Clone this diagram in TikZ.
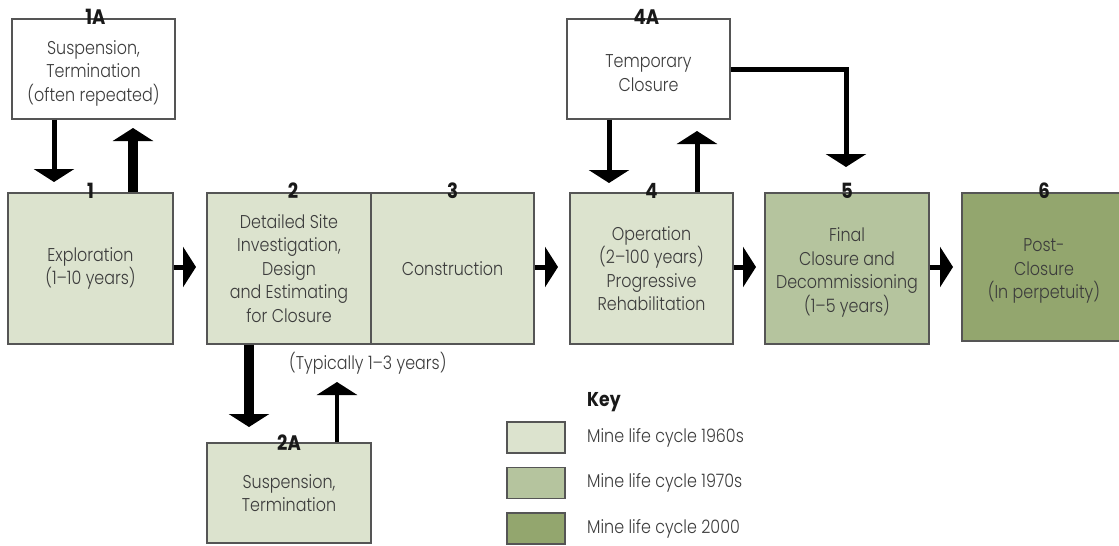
\documentclass[tikz,border=0pt]{standalone}
\usepackage{fontspec}
\setmainfont{Poppins}[UprightFont=* Light, BoldFont=* Bold, FakeStretch=0.86]
\usetikzlibrary{arrows.meta,positioning}
\definecolor{cA}{HTML}{DCE3CE}
\definecolor{cB}{HTML}{B5C49E}
\definecolor{cC}{HTML}{93A66E}
\definecolor{bord}{HTML}{555555}
\definecolor{txt}{HTML}{3C3C3C}
\tikzset{
  stage/.style={draw=bord, line width=1.1pt, minimum width=164pt, minimum height=151pt,
    inner sep=0pt, align=center, text=txt, font=\fontsize{18.5}{23.5}\selectfont},
  sidebox/.style={stage, minimum height=100pt},
  boxtext/.style={inner sep=0pt, align=center, text=txt, font=\fontsize{18.5}{23.5}\selectfont},
  numlbl/.style={font=\fontsize{21}{21}\selectfont\bfseries, text=black!90, inner sep=0pt},
  arr/.style={line width=5pt, -{Triangle[width=40pt,length=13pt]}},
  thickarr/.style={arr, line width=10pt},
  swatch/.style={draw=bord, line width=1.1pt, minimum width=58pt, minimum height=31pt, inner sep=0pt},
  keytxt/.style={anchor=west, text=txt, font=\fontsize{18.5}{20}\selectfont, inner sep=0pt}
}
\begin{document}
\begin{tikzpicture}[x=1pt,y=-1pt]
\useasboundingbox (0,0) rectangle (1119,546);
% main stages
\node[stage, fill=cA, minimum width=165pt] (b1) at (90.5,268.5) {Exploration\\(1--10 years)};
\node[stage, fill=cA] (b2) at (289,268.5) {Detailed Site\\Investigation,\\Design\\and Estimating\\for Closure};
\node[stage, fill=cA, minimum width=163pt] (b3) at (452.5,268.5) {Construction};
\node[stage, fill=cA, minimum width=163pt] (b4) at (651.5,268.5) {Operation\\(2--100 years)\\Progressive\\Rehabilitation};
\node[stage, fill=cB] (b5) at (847,268.5) {};
\node[boxtext] (b5t) at ([yshift=-4pt]b5.center) {Final\\Closure and\\Decommissioning\\(1--5 years)};
\node[stage, fill=cC, minimum height=148pt] (b6) at (1044,267) {};
\node[boxtext] (b6t) at ([yshift=-4pt]b6.center) {Post-\\Closure\\(In perpetuity)};
% side boxes
\node[sidebox, fill=white, minimum width=163pt] (a1) at (93.5,69) {};
\node[boxtext] (a1t) at ([yshift=-4pt]a1.center) {Suspension,\\Termination\\(often repeated)};
\node[sidebox, fill=white, minimum width=163pt] (a4) at (648.5,69) {};
\node[boxtext] (a4t) at ([yshift=-4pt]a4.center) {Temporary\\Closure};
\node[sidebox, fill=cA] (a2) at (289,493) {Suspension,\\Termination};
% number labels
\node[numlbl] (n1) at ([yshift=2pt]b1.north) {1};
\node[numlbl] (n2) at ([yshift=2pt,xshift=4pt]b2.north) {2};
\node[numlbl] (n3) at ([yshift=2pt]b3.north) {3};
\node[numlbl] (n4) at ([yshift=2pt]b4.north) {4};
\node[numlbl] (n5) at ([yshift=2pt]b5.north) {5};
\node[numlbl] (n6) at ([yshift=2pt]b6.north) {6};
\node[numlbl] (n1a) at ([yshift=2pt,xshift=2pt]a1.north) {1A};
\node[numlbl] (n4a) at ([yshift=2pt,xshift=-2pt]a4.north) {4A};
\node[numlbl] (n2a) at (a2.north) {2A};
% free ends
\coordinate (t1d) at (54,182);
\coordinate (t1u) at (133,128);
\coordinate (t4d) at (609,183);
\coordinate (t4u) at (697,131);
\coordinate (t45) at (846,167);
\coordinate (t2d) at (249,427);
\coordinate (t2u) at (337,382);
% vertical arrows
\draw[arr] (a1.south -| t1d) -- (t1d);
\draw[thickarr] (b1.north -| t1u) -- (t1u);
\draw[arr] (a4.south -| t4d) -- (t4d);
\draw[arr] (b4.north -| t4u) -- (t4u);
\draw[arr, line join=miter] (a4.east) -- (a4.east -| t45) -- (t45);
\draw[thickarr] (b2.south -| t2d) -- (t2d);
\draw[line width=4pt, -{Triangle[width=40pt,length=13pt]}] (a2.north -| t2u) -- (t2u);
% horizontal arrows
\coordinate (h12) at (196,267);
\coordinate (h34) at (558,267);
\coordinate (h45) at (756,267);
\coordinate (h56) at (953,267);
\draw[arr] (b1.east |- h12) -- (h12);
\draw[arr] (b3.east |- h34) -- (h34);
\draw[arr] (b4.east |- h45) -- (h45);
\draw[arr] (b5.east |- h56) -- (h56);
% note
\node[keytxt] (note) at (289,363) {(Typically 1--3 years)};
% key
\node[keytxt, font=\fontsize{20}{20}\selectfont\bfseries, text=black!90] (key) at (587,402) {Key};
\node[swatch, fill=cA] (s1) at (536,437.5) {};
\node[swatch, fill=cB] (s2) at (536,483) {};
\node[swatch, fill=cC] (s3) at (536,528.5) {};
\node[keytxt] (k1) at (587,438) {Mine life cycle 1960s};
\node[keytxt] (k2) at (587,483) {Mine life cycle 1970s};
\node[keytxt] (k3) at (587,529) {Mine life cycle 2000};
\end{tikzpicture}
\end{document}
